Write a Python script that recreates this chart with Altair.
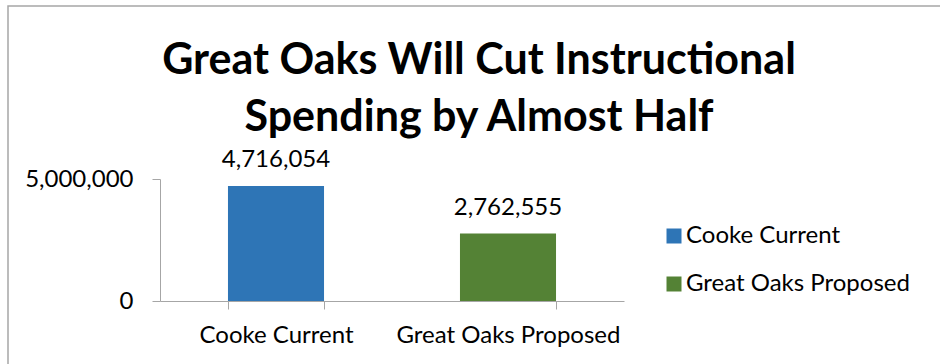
import altair as alt
import pandas as pd

categories = ["Cooke Current", "Great Oaks Proposed"]
values = [4716054, 2762555]
value_labels = ["4,716,054", "2,762,555"]
colors = ["#2E75B6", "#548235"]
y_ticks = [0, 5000000]
title_lines = ["Great Oaks Will Cut Instructional", "Spending by Almost Half"]

FONT = "Lato"
AXIS_GRAY = "#a6a6a6"
FS = 24

df = pd.DataFrame({"category": categories, "value": values, "label": value_labels})

x_enc = alt.X(
    "category:N",
    sort=categories,
    title=None,
    scale=alt.Scale(paddingInner=0.586, paddingOuter=0.293),
    axis=alt.Axis(
        labelAngle=0, labelFontSize=FS, labelFont=FONT, labelColor="black",
        tickBand="extent", tickSize=8, tickColor=AXIS_GRAY, domainColor=AXIS_GRAY,
        labelPadding=14, labelLimit=400,
    ),
)
y_enc = alt.Y(
    "value:Q",
    title=None,
    scale=alt.Scale(domain=[0, 5000000]),
    axis=alt.Axis(
        values=y_ticks, format=",d", labelFontSize=FS, labelFont=FONT, labelColor="black",
        tickSize=8, tickColor=AXIS_GRAY, domainColor=AXIS_GRAY, grid=False, labelPadding=19,
    ),
)

bars = alt.Chart(df).mark_bar().encode(
    x=x_enc,
    y=y_enc,
    color=alt.Color(
        "category:N",
        scale=alt.Scale(domain=categories, range=colors),
        legend=alt.Legend(
            title=None, orient="none", legendX=502, legendY=45,
            symbolType="square", symbolSize=225, symbolStrokeWidth=0,
            labelFontSize=FS, labelFont=FONT, labelColor="black", labelLimit=400,
            rowPadding=24, labelOffset=0, padding=0,
        ),
    ),
)

texts = alt.Chart(df).mark_text(
    baseline="alphabetic", dy=-19, fontSize=FS, font=FONT, color="black"
).encode(
    x=alt.X("category:N", sort=categories),
    y=alt.Y("value:Q"),
    text="label:N",
)

border = alt.Chart(pd.DataFrame({"b": [0]})).mark_rect(
    fill="transparent", stroke="#a6a6a6", strokeWidth=1.5
).encode(
    x=alt.value(-152), x2=alt.value(800), y=alt.value(-173), y2=alt.value(200)
)

chart = alt.layer(border, bars, texts).properties(
    width=464,
    height=122,
    title=alt.TitleParams(
        text=title_lines, fontSize=43, font=FONT, fontWeight="bold", color="black",
        anchor="middle", dx=87, dy=145, lineHeight=57, offset=10,
    ),
    autosize=alt.AutoSizeParams(type="none"),
    padding={"left": 160, "top": 179, "right": 316, "bottom": 63},
).configure_view(stroke=None)

chart.save("out.html", embed_options={"renderer": "svg", "actions": False})
